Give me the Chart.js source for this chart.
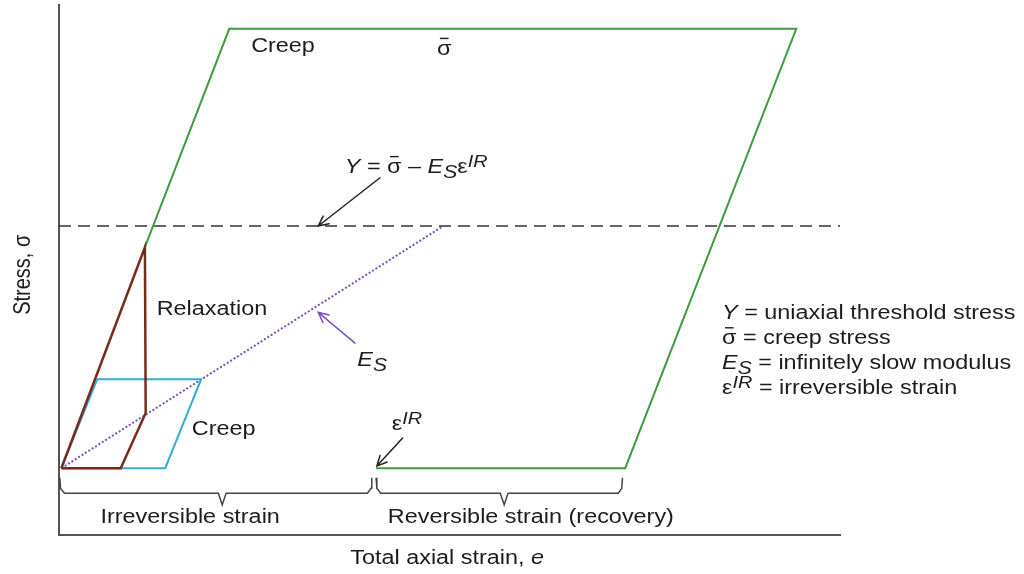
<!DOCTYPE html>
<html><head><meta charset="utf-8">
<script src="https://cdn.jsdelivr.net/npm/chart.js@4.4.1/dist/chart.umd.min.js"></script>
<style>html,body{margin:0;padding:0;background:#fff;}canvas{display:block;}</style>
</head><body>
<canvas id="c" width="1024" height="574"></canvas>
<script>
// Total axial strain (x) and stress (y), schematic units 0..100
const bigCreepStrain   = [11.0, 21.8, 94.4, 72.5, 40.6];
const bigCreepStress   = [54.3, 95.5, 95.5, 12.6, 12.6];
const relaxStrain      = [0.3, 11.0, 11.1, 7.9, 0.3];
const relaxStress      = [12.6, 54.3, 23.0, 12.6, 12.6];
const smallCreepStrain = [0.3, 4.9, 18.2, 13.6, 0.3];
const smallCreepStress = [12.6, 29.4, 29.4, 12.6, 12.6];
const slowModStrain    = [0.3, 49.2];
const slowModStress    = [12.6, 58.3];
const thresholdStrain  = [0, 100];
const thresholdStress  = [58.3, 58.3];
const irrBracketStrain = [0.1, 0.2, 0.7, 20.4, 20.9, 21.4, 39.5, 39.95, 40.05];
const revBracketStrain = [40.6, 40.7, 41.2, 56.5, 57.0, 57.5, 71.6, 72.05, 72.15];
const bracketLevel     = [10.8, 8.8, 7.9, 7.9, 5.7, 7.9, 7.9, 8.8, 10.8];
// arrows: tail -> head
const arrowTailStrain = [41.1, 37.9, 44.0];
const arrowTailStress = [67.4, 36.2, 18.3];
const arrowHeadStrain = [33.2, 33.2, 40.7];
const arrowHeadStress = [58.3, 42.0, 13.0];
// text anchors
const labelStrain = [24.6, 48.4, 36.6, 12.5, 38.2, 17.0, 42.6, 5.3, 42.1];
const labelStress = [91.1, 90.6, 68.3, 41.5, 31.9, 18.9, 19.8, 2.3, 2.3];
const legendStrain = 84.9;
const legendStress = [40.75, 36.0, 31.3, 26.6];
const xTitlePos = [49.7, -5.4];
const yTitlePos = [-4.6, 49.1];

const pts = (xs, ys) => xs.map((x, i) => ({x, y: ys[i]}));

const SX = 1.17, FS = 20, FONT = '"Liberation Sans", Arial, sans-serif', TXT = '#1c1c1c';
const SUB = {dy: 0.24, sc: 0.9}, SUP = {dy: -0.3, sc: 0.85};
const labelParts = [
  [['Creep']],
  [['σ', 0, null, 1]],
  [['Y', 1], [' = '], ['σ', 0, null, 1], [' – '], ['E', 1], ['S', 1, SUB], ['ε'], ['IR', 1, SUP]],
  [['Relaxation']],
  [['E', 1], ['S', 1, SUB]],
  [['Creep']],
  [['ε'], ['IR', 1, SUP]],
  [['Irreversible strain']],
  [['Reversible strain (recovery)']]
];
const legendParts = [
  [['Y', 1], [' = uniaxial threshold stress']],
  [['σ', 0, null, 1], [' = creep stress']],
  [['E', 1], ['S', 1, SUB], [' = infinitely slow modulus']],
  [['ε'], ['IR', 1, SUP], [' = irreversible strain']]
];

function fontOf(p) { const sc = p[2] ? p[2].sc : 1; return (p[1] ? 'italic ' : '') + (FS * sc).toFixed(1) + 'px ' + FONT; }
function drawRich(ctx, x, y, parts, align) {
  ctx.save();
  let w = 0;
  parts.forEach(p => { ctx.font = fontOf(p); w += ctx.measureText(p[0]).width; });
  ctx.translate(x, y); ctx.scale(SX, 1);
  let cx = align === 'center' ? -w / 2 : 0;
  ctx.fillStyle = TXT; ctx.strokeStyle = TXT; ctx.textBaseline = 'alphabetic'; ctx.textAlign = 'left';
  parts.forEach(p => {
    ctx.font = fontOf(p);
    const dy = p[2] ? p[2].dy * FS : 0;
    const pw = ctx.measureText(p[0]).width;
    ctx.fillText(p[0], cx, dy);
    if (p[3]) { ctx.lineWidth = 1.4; ctx.beginPath(); ctx.moveTo(cx + pw * 0.2, -FS * 0.82); ctx.lineTo(cx + pw * 0.8, -FS * 0.82); ctx.stroke(); }
    cx += pw;
  });
  ctx.restore();
}

const annotate = {
  id: 'annotate',
  afterDatasetsDraw(chart) {
    const ctx = chart.ctx, xs = chart.scales.x, ys = chart.scales.y;
    const X = v => xs.getPixelForValue(v), Y = v => ys.getPixelForValue(v);
    const arrowColors = ['#222', '#7b4fbf', '#222'];
    arrowTailStrain.forEach((t, i) => {
      const x0 = X(t), y0 = Y(arrowTailStress[i]), x1 = X(arrowHeadStrain[i]), y1 = Y(arrowHeadStress[i]);
      const a = Math.atan2(y1 - y0, x1 - x0), L = 11, h = 0.45;
      ctx.save(); ctx.strokeStyle = arrowColors[i]; ctx.lineWidth = 1.5; ctx.lineCap = 'round';
      ctx.beginPath(); ctx.moveTo(x0, y0); ctx.lineTo(x1, y1);
      ctx.moveTo(x1 - L * Math.cos(a - h), y1 - L * Math.sin(a - h)); ctx.lineTo(x1, y1);
      ctx.lineTo(x1 - L * Math.cos(a + h), y1 - L * Math.sin(a + h));
      ctx.stroke(); ctx.restore();
    });
    labelParts.forEach((parts, i) => drawRich(ctx, X(labelStrain[i]), Y(labelStress[i]), parts, 'left'));
    legendParts.forEach((parts, i) => drawRich(ctx, X(legendStrain), Y(legendStress[i]), parts, 'left'));
    drawRich(ctx, X(xTitlePos[0]), Y(xTitlePos[1]), [['Total axial strain, '], ['e', 1]], 'center');
    ctx.save();
    ctx.translate(X(yTitlePos[0]), Y(yTitlePos[1])); ctx.rotate(-Math.PI / 2); ctx.scale(1, SX);
    ctx.font = FS + 'px ' + FONT; ctx.fillStyle = TXT; ctx.textAlign = 'center'; ctx.textBaseline = 'middle';
    ctx.fillText('Stress, σ', 0, 0);
    ctx.restore();
  }
};

const line = (data, color, width, extra) => Object.assign({
  data, borderColor: color, borderWidth: width, showLine: true, pointRadius: 0, fill: false, tension: 0
}, extra || {});

new Chart(document.getElementById('c'), {
  type: 'scatter',
  data: { datasets: [
    line(pts(relaxStrain, relaxStress), '#7a2a1c', 2.5, {order: 1, borderJoinStyle: 'miter'}),
    line(pts(smallCreepStrain, smallCreepStress), '#35acd6', 2, {order: 2}),
    line(pts(slowModStrain, slowModStress), '#7b4fbf', 2, {order: 3, borderDash: [2, 2]}),
    line(pts(bigCreepStrain, bigCreepStress), '#3e9b3e', 2, {order: 4}),
    line(pts(thresholdStrain, thresholdStress), '#333', 1.5, {order: 5, borderDash: [12, 7]}),
    line(pts(irrBracketStrain, bracketLevel), '#444', 1.5, {order: 6}),
    line(pts(revBracketStrain, bracketLevel), '#444', 1.5, {order: 6})
  ]},
  options: {
    responsive: false, animation: false, events: [],
    layout: { padding: { left: 59, right: 184, top: 5, bottom: 39 } },
    plugins: { legend: { display: false }, tooltip: { enabled: false } },
    scales: {
      x: { type: 'linear', min: 0, max: 100, ticks: { display: false }, grid: { display: false, drawTicks: false },
           border: { display: true, color: '#555', width: 2 } },
      y: { type: 'linear', min: 0, max: 100, ticks: { display: false }, grid: { display: false, drawTicks: false },
           border: { display: true, color: '#555', width: 2 } }
    }
  },
  plugins: [annotate]
});
</script>
</body></html>
